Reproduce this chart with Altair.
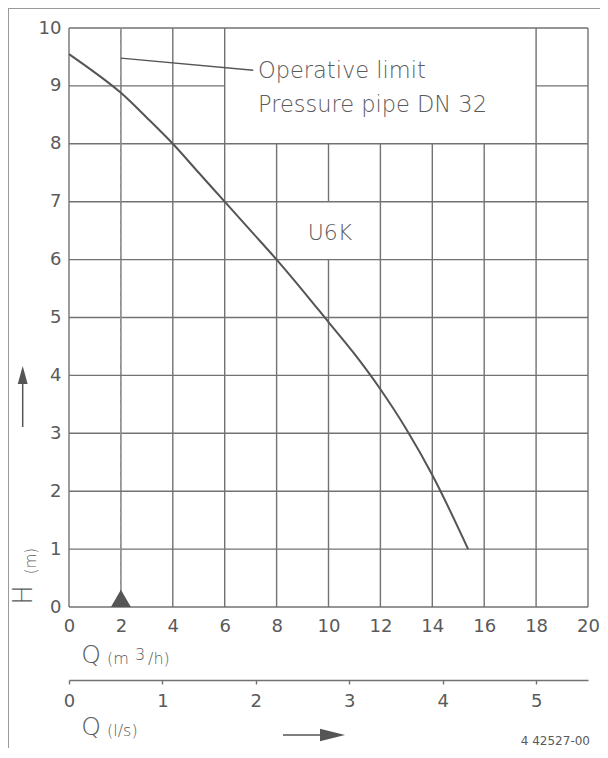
import altair as alt
import pandas as pd

# ---------------- data ----------------
Q_TICKS = [0, 2, 4, 6, 8, 10, 12, 14, 16, 18, 20]
H_TICKS = [0, 1, 2, 3, 4, 5, 6, 7, 8, 9, 10]
LS_TICKS = [0, 0.5, 1, 1.5, 2, 2.5, 3, 3.5, 4, 4.5, 5, 20 / 3.6]

curve_q = [0, 1, 2, 3, 4, 5, 6, 7, 8, 9, 10, 11, 12, 13, 14, 15.38]
curve_h = [9.55, 9.23, 8.88, 8.45, 8.0, 7.5, 7.0, 6.5, 6.0, 5.47, 4.92, 4.37, 3.76, 3.07, 2.28, 1.0]

# text boxes in the grid (q1, q2, h1, h2): interior grid lines are left out
boxes = [(6, 18, 8, 10), (8, 12, 6, 7)]

limit_q = 2
leader_q = [2, 7.1]
leader_h = [9.48, 9.27]

FONT = "DejaVu Sans"
GREY = "#5a5a5a"
GRID = "#727272"


def subtract(lo, hi, cuts):
    segs = [(lo, hi)]
    for a, b in cuts:
        out = []
        for s, e in segs:
            if b <= s or a >= e:
                out.append((s, e))
            else:
                if a > s:
                    out.append((s, a))
                if b < e:
                    out.append((b, e))
        segs = out
    return segs


vrows = []
for q in Q_TICKS:
    cuts = [(h1, h2) for (q1, q2, h1, h2) in boxes if q1 < q < q2]
    for s, e in subtract(0, 10, cuts):
        vrows.append({"q": q, "h": s, "h2": e})
hrows = []
for h in H_TICKS:
    cuts = [(q1, q2) for (q1, q2, h1, h2) in boxes if h1 < h < h2]
    for s, e in subtract(0, 20, cuts):
        hrows.append({"q": s, "q2": e, "h": h})

df_v = pd.DataFrame(vrows)
df_h = pd.DataFrame(hrows)
df_curve = pd.DataFrame({"q": curve_q, "h": curve_h})
df_leader = pd.DataFrame({"q": leader_q, "h": leader_h})
df_limit = pd.DataFrame({"q": [limit_q], "h": [0], "h2": [10]})
df_marker = pd.DataFrame({"q": [limit_q], "h": [0.15]})
df_ls = pd.DataFrame({"ls": [0, 20 / 3.6], "h": [0, 0]})
df_one = pd.DataFrame({"a": [0]})

xs = alt.Scale(domain=[0, 20], nice=False, zero=False)
ys = alt.Scale(domain=[0, 10], nice=False, zero=False)
xaxis = alt.Axis(values=Q_TICKS, ticks=False, domain=False, grid=False, title=None,
                 labelFont=FONT, labelFontSize=18, labelColor=GREY, labelPadding=10,
                 labelFlush=False)
yaxis = alt.Axis(values=H_TICKS, ticks=False, domain=False, grid=False, title=None,
                 labelFont=FONT, labelFontSize=18, labelColor=GREY, labelPadding=8)
X = alt.X("q:Q", scale=xs, axis=xaxis)
Y = alt.Y("h:Q", scale=ys, axis=yaxis)

vgrid = alt.Chart(df_v).mark_rule(color=GRID, strokeWidth=1.4).encode(x=X, y=Y, y2="h2:Q")
hgrid = alt.Chart(df_h).mark_rule(color=GRID, strokeWidth=1.4).encode(x=X, x2="q2:Q", y=Y)
limit = alt.Chart(df_limit).mark_rule(color="#a0a0a0", strokeWidth=1, strokeDash=[5, 4]).encode(
    x=X, y=Y, y2="h2:Q")
curve = alt.Chart(df_curve).mark_line(color="#555555", strokeWidth=2, interpolate="monotone").encode(
    x=X, y=Y)
leader = alt.Chart(df_leader).mark_line(color="#555555", strokeWidth=1.4).encode(x=X, y=Y)
marker = alt.Chart(df_marker).mark_point(shape="triangle-up", size=400, filled=True,
                                         color="#555555", opacity=1).encode(x=X, y=Y)


def label(txt, x, y, size=22, align="left", angle=0, weight=300):
    return alt.Chart(df_one).mark_text(
        font=FONT, fontSize=size, color=GREY, align=align, baseline="middle",
        angle=angle, fontWeight=weight
    ).encode(x=alt.value(x), y=alt.value(y), text=alt.value(txt))


texts = [
    label("Operative limit", 189, 43, size=22.5),
    label("Pressure pipe DN 32", 189, 77, size=22.5),
    label("U6K", 261, 205, align="center"),
    label("Q", 22, 627, size=25, align="center"),
    label("(m", 38, 631, size=16),
    label("3", 66, 627, size=16),
    label("/h)", 79, 631, size=16),
    label("Q", 22, 699, size=25, align="center"),
    label("(l/s)", 38, 703, size=16),
    label("H", -45.5, 567, size=26, align="center", angle=270),
    label("(m)", -38, 533, size=15, align="center", angle=270),
    label("4 42527-00", 521, 713, size=12, align="right", weight=400),
]

# arrows and page frame (decoration)
v_shaft = alt.Chart(df_one).mark_rule(color="#555555", strokeWidth=1.5).encode(
    x=alt.value(-46.3), y=alt.value(354), y2=alt.value(399))
v_head = alt.Chart(df_one).mark_point(shape="M 0 -1 L 0.55 1 L -0.55 1 Z", size=324, filled=True,
                                      color="#555555", opacity=1).encode(
    x=alt.value(-46.3), y=alt.value(347))
h_shaft = alt.Chart(df_one).mark_rule(color="#555555", strokeWidth=1.5).encode(
    x=alt.value(214), x2=alt.value(253), y=alt.value(707))
h_head = alt.Chart(df_one).mark_point(shape="M -1 -0.5 L 1 0 L -1 0.5 Z", size=625, filled=True,
                                      color="#555555", opacity=1).encode(
    x=alt.value(263.5), y=alt.value(707))
frame_l = alt.Chart(df_one).mark_rule(color="#9a9a9a", strokeWidth=1).encode(
    x=alt.value(-60.5), y=alt.value(-20), y2=alt.value(722))
frame_t = alt.Chart(df_one).mark_rule(color="#9a9a9a", strokeWidth=1).encode(
    x=alt.value(-61), x2=alt.value(531), y=alt.value(-19.5))

main = alt.layer(vgrid, hgrid, limit, curve, leader, marker, *texts,
                 v_shaft, v_head, h_shaft, h_head, frame_l, frame_t)

ls_layer = alt.Chart(df_ls).mark_point(opacity=0).encode(
    x=alt.X("ls:Q", scale=alt.Scale(domain=[0, 20 / 3.6], nice=False, zero=False),
            axis=alt.Axis(orient="bottom", offset=73, values=LS_TICKS,
                          labelExpr="datum.value % 1 == 0 ? datum.label : ''",
                          tickSize=4, tickColor=GRID, domainColor=GRID, domainWidth=1.4,
                          tickWidth=1.4, grid=False, title=None, labelFont=FONT,
                          labelFontSize=18, labelColor=GREY, labelPadding=8,
                          labelFlush=False, format="d")),
    y=Y,
)

chart = alt.layer(main, ls_layer).resolve_scale(x="independent").properties(
    width=519, height=579,
    autosize=alt.AutoSizeParams(type="none"),
    padding={"left": 61, "top": 20, "right": 12, "bottom": 141},
    background="white",
).configure_view(stroke=None)

chart.save("out.html", embed_options={"renderer": "svg", "actions": False})
